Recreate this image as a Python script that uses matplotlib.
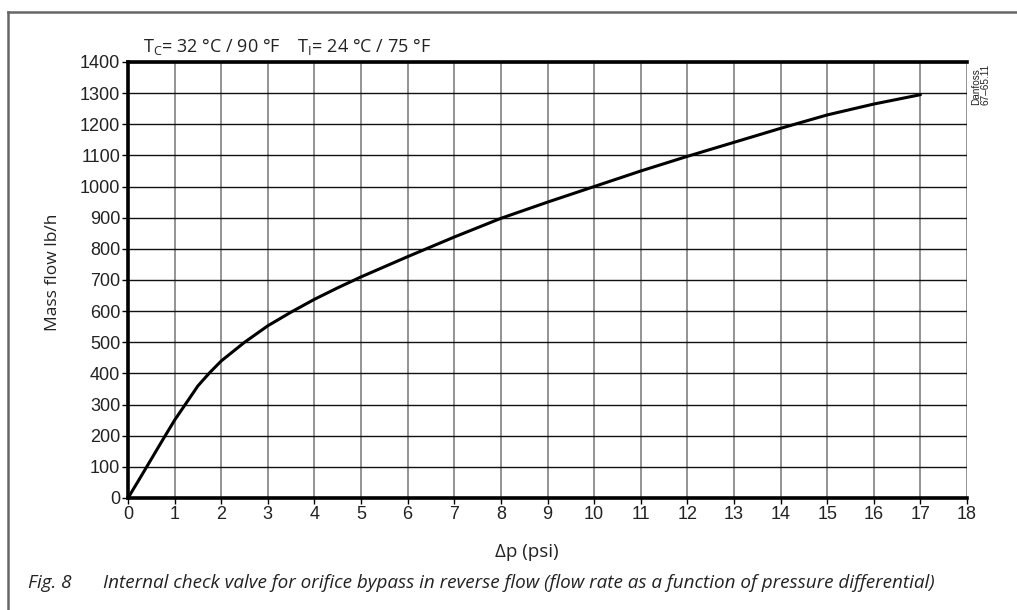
import matplotlib
matplotlib.use("Agg")
import matplotlib.pyplot as plt
from matplotlib.lines import Line2D

# ---- data ----
dp_psi = [0, 0.25, 0.5, 0.75, 1.0, 1.25, 1.5, 1.75, 2.0, 2.5, 3.0, 3.5, 4.0, 4.5,
          5.0, 6, 7, 8, 9, 10, 11, 12, 13, 14, 15, 16, 17]
mass_flow = [0, 62, 125, 188, 250, 305, 360, 402, 440, 500, 553, 597, 638, 675,
             710, 775, 838, 898, 950, 1000, 1050, 1097, 1142, 1187, 1230, 1265, 1295]
x_ticks = list(range(0, 19))
y_ticks = list(range(0, 1401, 100))

title_text = r"T$_\mathregular{C}$= 32 °C / 90 °F    T$_\mathregular{I}$= 24 °C / 75 °F"
y_label = "Mass flow lb/h"
x_label = "Δp (psi)"
fig_no = "Fig. 8"
caption = "Internal check valve for orifice bypass in reverse flow (flow rate as a function of pressure differential)"
stamp = "Danfoss\n67–65.11"

plt.rcParams['mathtext.fontset'] = 'custom'
plt.rcParams['mathtext.rm'] = 'Open Sans'

W, H = 1017, 610
fig = plt.figure(figsize=(W / 100, H / 100), dpi=100)

left, right, top, bottom = 128, 967, 62, 498
ax = fig.add_axes([left / W, 1 - bottom / H, (right - left) / W, (bottom - top) / H])

ax.plot(dp_psi, mass_flow, color='black', lw=2.2, solid_capstyle='round', zorder=5)

ax.set_xlim(0, 18)
ax.set_ylim(0, 1400)
ax.set_xticks(x_ticks)
ax.set_yticks(y_ticks)
ax.set_xticklabels([str(v) for v in x_ticks], fontfamily='Liberation Sans', fontsize=13, color='#222222')
ax.set_yticklabels([str(v) for v in y_ticks], fontfamily='Liberation Sans', fontsize=13, color='#222222')
ax.tick_params(axis='both', direction='out', length=4, width=1, color='black', pad=1.5)

for v in x_ticks[1:]:
    ax.axvline(v, color='#777777', lw=1.1, zorder=1)
for v in y_ticks[1:]:
    ax.axhline(v, color='#111111', lw=1.0, zorder=1)

for s in ['left', 'bottom', 'top']:
    ax.spines[s].set_linewidth(2.6)
    ax.spines[s].set_color('black')
ax.spines['right'].set_visible(False)
ax.spines['top'].set_zorder(6)

# axis labels
fig.text(53 / W, 1 - 272 / H, y_label, rotation=90, ha='center', va='center',
         fontfamily='Open Sans', fontsize=12.5, color='#222222')
fig.text(527 / W, 1 - 552 / H, x_label, ha='center', va='center',
         fontfamily='Open Sans', fontsize=13.5, color='#222222')

# title
fig.text(143 / W, 1 - 52 / H, title_text, ha='left', va='baseline',
         fontfamily='Open Sans', fontsize=13, color='#222222')

# stamp
fig.text(981 / W, 1 - 105 / H, stamp, rotation=90, ha='center', va='bottom',
         fontfamily='Liberation Sans', fontsize=7.2, color='#222222', linespacing=0.95,
         multialignment='left')

# caption
fig.text(28 / W, 1 - 583 / H, fig_no, ha='left', va='center', fontfamily='Open Sans',
         style='italic', fontsize=13.6, color='#222222')
fig.text(103 / W, 1 - 583 / H, caption, ha='left', va='center', fontfamily='Open Sans',
         style='italic', fontsize=13.6, color='#222222')

# frame (left and top only)
fig.add_artist(Line2D([8 / W, 8 / W], [0, 1 - 12 / H], color='#666666', lw=1.8))
fig.add_artist(Line2D([8 / W, 1], [1 - 12 / H, 1 - 12 / H], color='#666666', lw=1.8))

fig.savefig('out.png', dpi=100, facecolor='white')
